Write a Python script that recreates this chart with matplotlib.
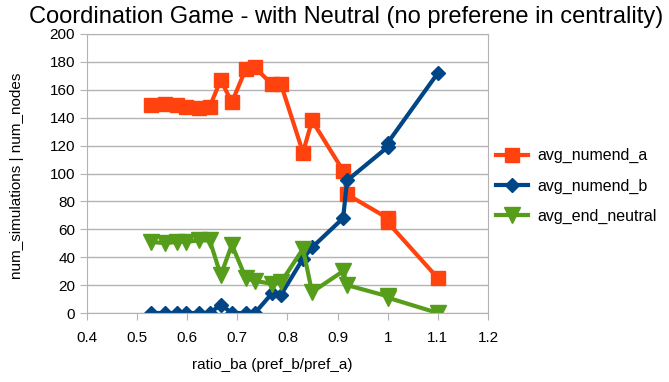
import numpy as np
import matplotlib.pyplot as plt

plt.rcParams['font.family'] = ['Liberation Sans', 'DejaVu Sans']

# data
ratio_ba = [0.528, 0.556, 0.58, 0.598, 0.624, 0.645, 0.667, 0.689, 0.717, 0.735,
            0.769, 0.787, 0.831, 0.849, 0.911, 0.919, 1.0, 1.0, 1.1]
avg_numend_a = [149, 150, 149, 148, 147, 148, 167, 151, 175, 176,
                164, 164, 115, 138, 102, 85, 68, 65, 25]
avg_numend_b = [0, 0, 0, 0, 0, 0, 6, 0, 0, 0,
                14, 13, 39, 47, 68, 95, 119, 122, 172]
avg_end_neutral = [51, 50, 51, 51, 52, 52, 27, 49, 25, 23,
                   21, 22, 46, 15, 30, 20, 12, 11, 0]

fig = plt.figure(figsize=(6.69, 3.82), dpi=100)
ax = fig.add_axes([0.130, 0.1806, 0.5994, 0.7304])

ax.plot(ratio_ba, avg_numend_a, color='#ff420e', lw=3, marker='s', ms=10,
        label='avg_numend_a')
ax.plot(ratio_ba, avg_numend_b, color='#004586', lw=3, marker='D', ms=7,
        label='avg_numend_b')
ax.plot(ratio_ba, avg_end_neutral, color='#579d1c', lw=3, marker='v', ms=11,
        label='avg_end_neutral')

ax.set_xlim(0.4, 1.2)
ax.set_ylim(0, 200)
ax.set_xticks(np.arange(0.4, 1.21, 0.1))
ax.set_xticklabels(['0.4', '0.5', '0.6', '0.7', '0.8', '0.9', '1', '1.1', '1.2'])
ax.set_yticks(range(0, 201, 20))
ax.yaxis.grid(True, color='#b3b3b3', lw=1)
ax.set_axisbelow(True)
for s in ax.spines.values():
    s.set_color('#b3b3b3')
ax.tick_params(colors='#b3b3b3', labelcolor='black', labelsize=11, length=5)
ax.tick_params(axis='x', pad=8)

fig.text(0.517, 0.955, 'Coordination Game - with Neutral (no preferene in centrality)',
         ha='center', va='center', fontsize=17)
fig.text(0.407, 0.045, 'ratio_ba (pref_b/pref_a)', ha='center', va='center', fontsize=11)
fig.text(0.026, 0.54, 'num_simulations | num_nodes', ha='center', va='center',
         rotation=90, fontsize=11)

ax.legend(loc='center left', bbox_to_anchor=(0.985, 0.455), frameon=False, fontsize=11.5,
          handlelength=2, labelspacing=0.95, handletextpad=0.6)

fig.savefig('out.png', dpi=100)
